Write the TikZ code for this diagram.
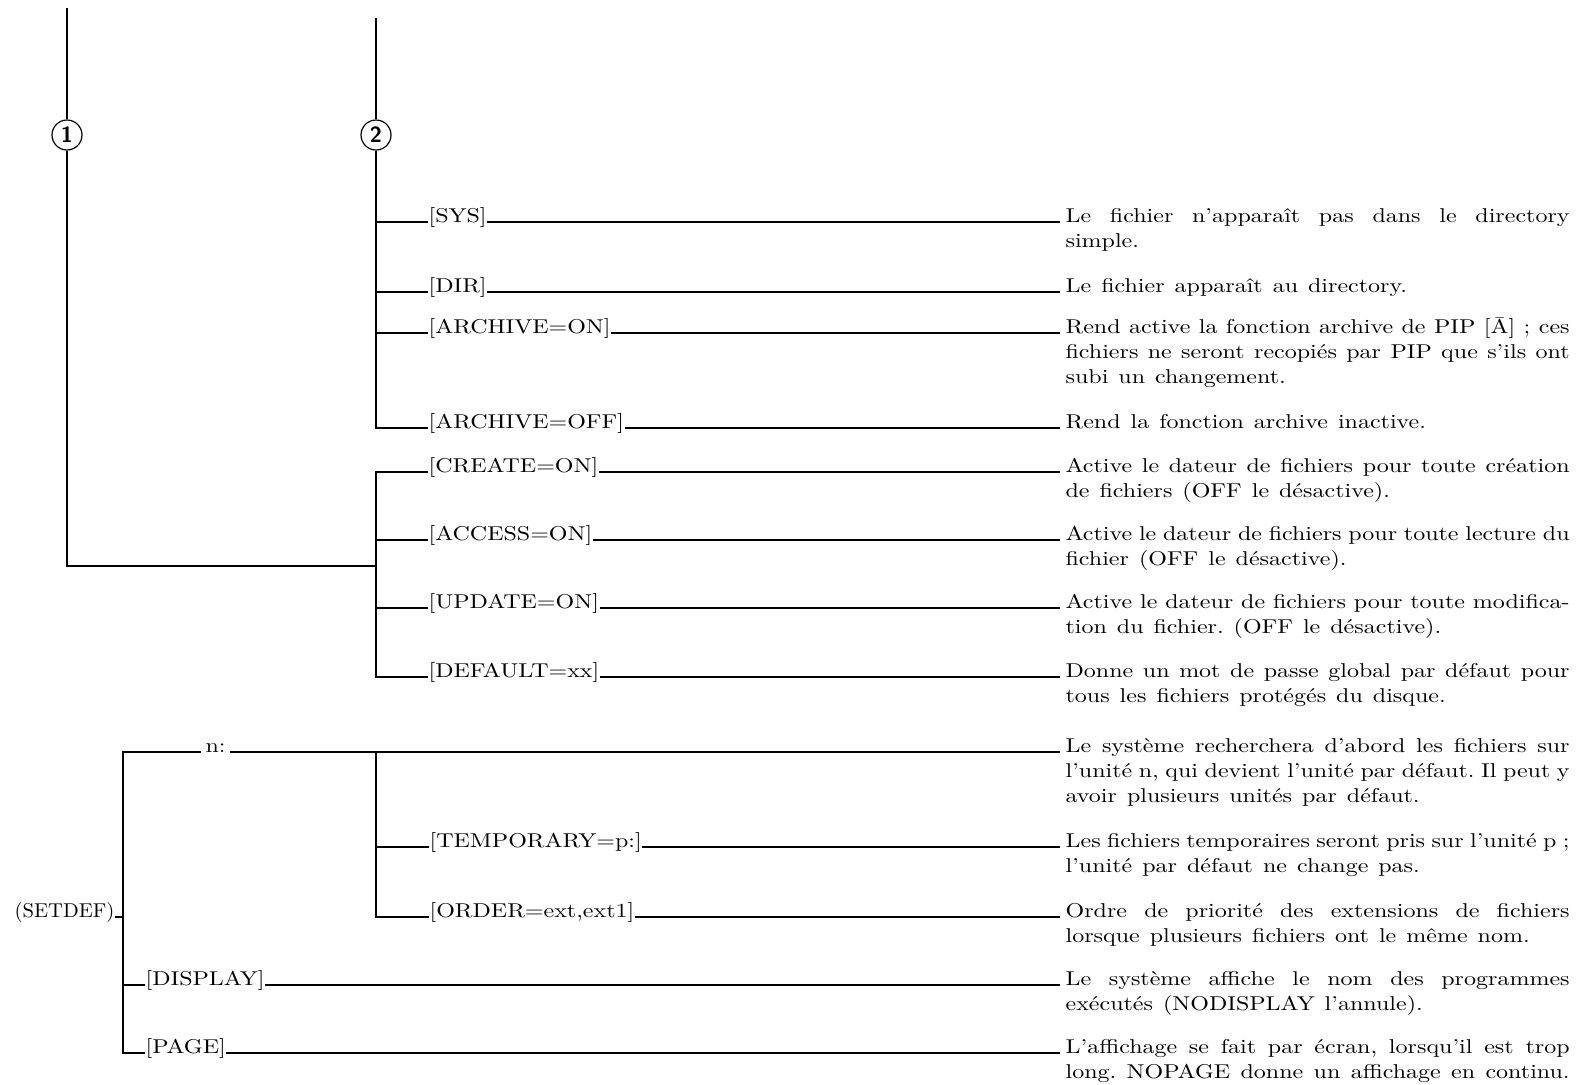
\documentclass[tikz,border=0pt]{standalone}
\usepackage{fontspec}
\setmainfont{Latin Modern Roman}[FakeStretch=1.2]
\usepackage{graphicx}
\usepackage{tikz}
\newcommand{\descpar}[1]{\parbox[t]{252pt}{\hyphenpenalty=10000 \frenchspacing
  \spaceskip=5pt plus 12pt minus 2.8pt #1}}

\begin{document}
\begin{tikzpicture}[x=0.5pt,y=-0.5pt,line width=.6pt,
  every node/.style={font=\fontsize{10}{12.5}\selectfont},
  opt/.style={anchor=base west,inner sep=0pt},
  desc/.style={anchor=base west,inner sep=0pt},
  lead/.style={shorten >=2.5pt},
  numcircle/.style={circle,draw,fill=white,inner sep=0pt,minimum size=15pt,
    font=\sffamily\bfseries\fontsize{11}{11}\selectfont}]
\useasboundingbox (0,0) rectangle (1579,1084);
\fill[white] (0,0) rectangle (1579,1084);

% the two entry lines
\coordinate (t1) at (67,8);
\coordinate (t2) at (376,18);
\coordinate (j1) at (67,566);
\node[numcircle] (c1) at (67,135) {1};
\node[numcircle] (c2) at (376,135) {2};

% options of group 2
\node[opt] (sys) at (428,222) {[SYS]};
\node[opt] (dir) at (428,292) {[DIR]};
\node[opt] (aon) at (428,333) {[ARCHIVE=ON]};
\node[opt] (aoff) at (428,428) {[ARCHIVE=OFF]};
\node[opt] (create) at (428,472) {[CREATE=ON]};
\node[opt] (access) at (428,540) {[ACCESS=ON]};
\node[opt] (update) at (428,608) {[UPDATE=ON]};
\node[opt] (default) at (428,677) {[DEFAULT=xx]};

\node[desc] (dsys) at (1065,222) {\descpar{Le fichier n'apparaît pas dans le directory\linebreak simple.}};
\node[desc] (ddir) at (1065,292) {\descpar{Le fichier apparaît au directory.}};
\node[desc] (daon) at (1065,333) {\descpar{Rend active la fonction archive de PIP [Ā] ; ces\linebreak fichiers ne seront recopiés par PIP que s'ils ont\linebreak subi un changement.}};
\node[desc] (daoff) at (1065,428) {\descpar{Rend la fonction archive inactive.}};
\node[desc] (dcreate) at (1065,472) {\descpar{Active le dateur de fichiers pour toute création\linebreak de fichiers (OFF le désactive).}};
\node[desc] (daccess) at (1065,540) {\descpar{Active le dateur de fichiers pour toute lecture du\linebreak fichier (OFF le désactive).}};
\node[desc] (dupdate) at (1065,608) {\descpar{Active le dateur de fichiers pour toute modifica-\linebreak tion du fichier. (OFF le désactive).}};
\node[desc] (ddefault) at (1065,677) {\descpar{Donne un mot de passe global par défaut pour\linebreak tous les fichiers protégés du disque.}};

\draw (t1) -- (c1) -- (j1) -- (c2 |- j1);
\draw (t2) -- (c2) -- (c2 |- aoff.base) -- (aoff.base west);
\draw (c2 |- sys.base) -- (sys.base west);
\draw (c2 |- dir.base) -- (dir.base west);
\draw (c2 |- aon.base) -- (aon.base west);
\draw (create.base west) -- (c2 |- create.base) -- (c2 |- default.base) -- (default.base west);
\draw (c2 |- access.base) -- (access.base west);
\draw (c2 |- update.base) -- (update.base west);
\foreach \o in {sys,dir,aon,aoff,create,access,update,default}
  \draw[lead] (\o.base east) -- (d\o.base west);

% SETDEF part
\coordinate (bk) at (123,752);
\node[anchor=base east,inner sep=0pt] (setdef) at (115,917) {\scalebox{0.86}[1]{(SETDEF)}};
\node[anchor=base west,inner xsep=2pt,inner ysep=0pt] (nu) at (201,752) {n:};
\node[opt] (temp) at (429,847) {[TEMPORARY=p:]};
\node[opt] (order) at (429,917) {[ORDER=ext,ext1]};
\node[opt] (display) at (145,985) {[DISPLAY]};
\node[opt] (page) at (145,1053) {[PAGE]};

\node[desc] (dnu) at (1065,752) {\descpar{Le système recherchera d'abord les fichiers sur\linebreak l'unité n, qui devient l'unité par défaut. Il peut y\linebreak avoir plusieurs unités par défaut.}};
\node[desc] (dtemp) at (1065,847) {\descpar{Les fichiers temporaires seront pris sur l'unité p ;\linebreak l'unité par défaut ne change pas.}};
\node[desc] (dorder) at (1065,917) {\descpar{Ordre de priorité des extensions de fichiers\linebreak lorsque plusieurs fichiers ont le même nom.}};
\node[desc] (ddisplay) at (1065,985) {\descpar{Le système affiche le nom des programmes\linebreak exécutés (NODISPLAY l'annule).}};
\node[desc] (dpage) at (1065,1053) {\descpar{\parfillskip=0pt L'affichage se fait par écran, lorsqu'il est trop\linebreak long. NOPAGE donne un affichage en continu.}};

\draw (setdef.base east) -- (bk |- setdef.base);
\draw (nu.base west) -- (bk) -- (bk |- page.base) -- (page.base west);
\draw (bk |- display.base) -- (display.base west);
\draw (c2 |- nu.base) -- (c2 |- order.base) -- (order.base west);
\draw (c2 |- temp.base) -- (temp.base west);
\foreach \o in {nu,temp,order,display,page}
  \draw[lead] (\o.base east) -- (d\o.base west);
\end{tikzpicture}
\end{document}
